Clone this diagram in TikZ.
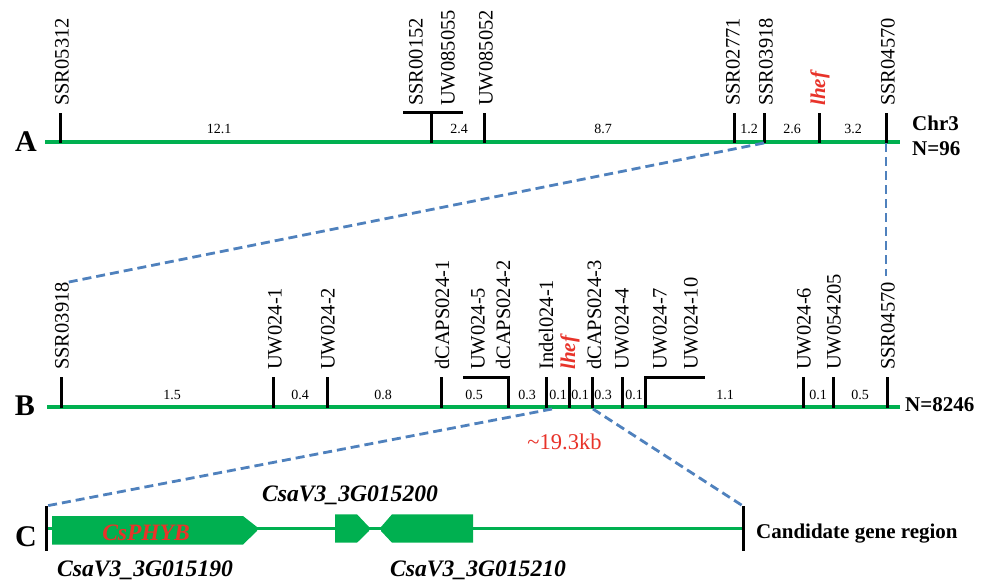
\documentclass[tikz,border=0pt]{standalone}
\usepackage{fontspec}
\setmainfont{Liberation Serif}
\definecolor{cgreen}{HTML}{00B050}
\definecolor{lblue}{HTML}{4F81BD}
\definecolor{tred}{HTML}{E8332A}
\begin{document}
\begin{tikzpicture}[x=1pt,y=-1pt,
 mk/.style={rotate=90,anchor=west,inner sep=0pt,font=\fontsize{20.5}{24}\selectfont},
 mkred/.style={mk,text=tred,font=\fontsize{21}{24}\selectfont\bfseries\itshape},
 dist/.style={inner sep=0pt,font=\fontsize{14}{16}\selectfont},
 tickline/.style={line width=3pt},
 chrom/.style={draw=cgreen,line width=4.5pt},
 chromc/.style={draw=cgreen,line width=3.5pt},
 link/.style={draw=lblue,line width=2.8pt,dash pattern=on 9pt off 5pt},
 panel/.style={inner sep=0pt,anchor=base,font=\fontsize{30}{30}\selectfont\bfseries},
 info/.style={inner sep=0pt,anchor=base west,font=\fontsize{21}{24}\selectfont\bfseries},
 gene/.style={fill=cgreen,draw=none},
 glabel/.style={inner sep=0pt,anchor=base west,font=\fontsize{23.6}{24}\selectfont\bfseries\itshape}]
\useasboundingbox (0,0) rectangle (987,581);

% ---------------- Panel A ----------------
\coordinate (aL) at (45,142);
\coordinate (aR) at (900,142);
\draw[chrom] (aL) -- (aR);
\foreach \n/\x in {a1/60,a2/431,a3/484,a4/734,a5/764,a6/819,a7/886}{
  \coordinate (\n) at (\x,143);
  \coordinate (\n t) at (\x,113);
  \draw[tickline] (\n) -- (\n t);
}
\coordinate (a2l) at (403,112.5);
\coordinate (a2r) at (463,112.5);
\draw[tickline] (a2l) -- (a2r);

\node[mk] (lA1) at (62,106) {SSR05312};
\node[mk] (lA2) at (416,106) {SSR00152};
\node[mk] (lA3) at (448,106) {UW085055};
\node[mk] (lA4) at (486,106) {UW085052};
\node[mk] (lA5) at (733,106) {SSR02771};
\node[mk] (lA6) at (766,106) {SSR03918};
\node[mkred] (lA7) at (820,106) {lhef};
\node[mk] (lA8) at (888,106) {SSR04570};

\node[dist] (dA1) at (219,129) {12.1};
\node[dist] (dA2) at (459,129) {2.4};
\node[dist] (dA3) at (603,129) {8.7};
\node[dist] (dA4) at (749,129) {1.2};
\node[dist] (dA5) at (792,129) {2.6};
\node[dist] (dA6) at (853,129) {3.2};

\node[panel] (pA) at (26,151.5) {A};
\node[info] (chr) at (912,130) {Chr3};
\node[info] (nA) at (912,155) {N=96};

% ---------------- Panel B ----------------
\coordinate (bL) at (47,407);
\coordinate (bR) at (900,407);
\draw[chrom] (bL) -- (bR);
\foreach \n/\x in {b1/61,b2/273,b3/327,b4/441,b6/546,b7/569,b8/592,b9/622,b11/803,b12/833,b13/887}{
  \coordinate (\n) at (\x,408);
  \coordinate (\n t) at (\x,377);
  \draw[tickline] (\n) -- (\n t);
}
\coordinate (b5) at (508,408);
\coordinate (b5t) at (508,377);
\coordinate (b5l) at (463,377);
\draw[tickline] (b5l) -- (b5t) -- (b5);
\coordinate (b10) at (645,408);
\coordinate (b10t) at (645,377);
\coordinate (b10r) at (705,377);
\draw[tickline] (b10) -- (b10t) -- (b10r);

\node[mk] (lB1) at (62,370) {SSR03918};
\node[mk] (lB2) at (275,370) {UW024-1};
\node[mk] (lB3) at (328,370) {UW024-2};
\node[mk] (lB4) at (442,370) {dCAPS024-1};
\node[mk] (lB5) at (478,370) {UW024-5};
\node[mk] (lB6) at (503,370) {dCAPS024-2};
\node[mk] (lB7) at (546,370) {Indel024-1};
\node[mkred] (lB8) at (570,370) {lhef};
\node[mk] (lB9) at (594,370) {dCAPS024-3};
\node[mk] (lB10) at (622,370) {UW024-4};
\node[mk] (lB11) at (660,370) {UW024-7};
\node[mk] (lB12) at (691,370) {UW024-10};
\node[mk] (lB13) at (804,370) {UW024-6};
\node[mk] (lB14) at (834,370) {UW054205};
\node[mk] (lB15) at (888,370) {SSR04570};

\node[dist] (dB1) at (172,395) {1.5};
\node[dist] (dB2) at (300,395) {0.4};
\node[dist] (dB3) at (383,395) {0.8};
\node[dist] (dB4) at (474,395) {0.5};
\node[dist] (dB5) at (527,395) {0.3};
\node[dist] (dB6) at (558,395) {0.1};
\node[dist] (dB7) at (580,395) {0.1};
\node[dist] (dB8) at (603,395) {0.3};
\node[dist] (dB9) at (634,395) {0.1};
\node[dist] (dB10) at (725,395) {1.1};
\node[dist] (dB11) at (818,395) {0.1};
\node[dist] (dB12) at (860,395) {0.5};

\node[panel] (pB) at (25,415) {B};
\node[info] (nB) at (905,411.5) {N=8246};

% ---------------- Panel C ----------------
\coordinate (cL) at (46,528.7);
\coordinate (cR) at (743,528.7);
\draw[chromc] (cL) -- (cR);
\coordinate (cLt) at (46,506);
\coordinate (cLb) at (46,551);
\coordinate (cRt) at (743,506);
\coordinate (cRb) at (743,551);
\draw[tickline] (cLt) -- (cLb);
\draw[tickline] (cRt) -- (cRb);

\fill[gene] (52,516) -- (243,516) -- (257,527) -- (257,531) -- (243,544.5) -- (52,544.5) -- cycle;
\fill[gene] (335,514.3) -- (357,514.3) -- (369,527) -- (369,531) -- (357,542.7) -- (335,542.7) -- cycle;
\fill[gene] (381,527) -- (392,514.3) -- (473,514.3) -- (473,542.7) -- (392,542.7) -- (381,531) -- cycle;

\node[inner sep=0pt,anchor=base,text=tred,font=\fontsize{23.5}{24}\selectfont\bfseries\itshape] (phyb) at (146,540.5) {CsPHYB};
\node[glabel] (g200) at (262,501.5) {CsaV3\_3G015200};
\node[glabel] (g190) at (57,576.5) {CsaV3\_3G015190};
\node[glabel] (g210) at (390,576.5) {CsaV3\_3G015210};
\node[info] (cand) at (756,538) {Candidate gene region};
\node[panel] (pC) at (26,546.5) {C};
\node[inner sep=0pt,anchor=base,text=tred,font=\fontsize{22.5}{24}\selectfont] (kb) at (564.5,449.3) {\char`\~19.3kb};

% ---------------- dashed links ----------------
\coordinate (lkA1) at (66.5,282.5);
\coordinate (lkA2) at (886,276);
\draw[link] (a5) -- (lkA1);
\draw[link] (a7) -- (lkA2);
\coordinate (lkB1) at (552,409);
\coordinate (lkB2) at (593,409);
\draw[link] (lkB1) -- (cLt);
\draw[link] (lkB2) -- (cRt);
\end{tikzpicture}
\end{document}
